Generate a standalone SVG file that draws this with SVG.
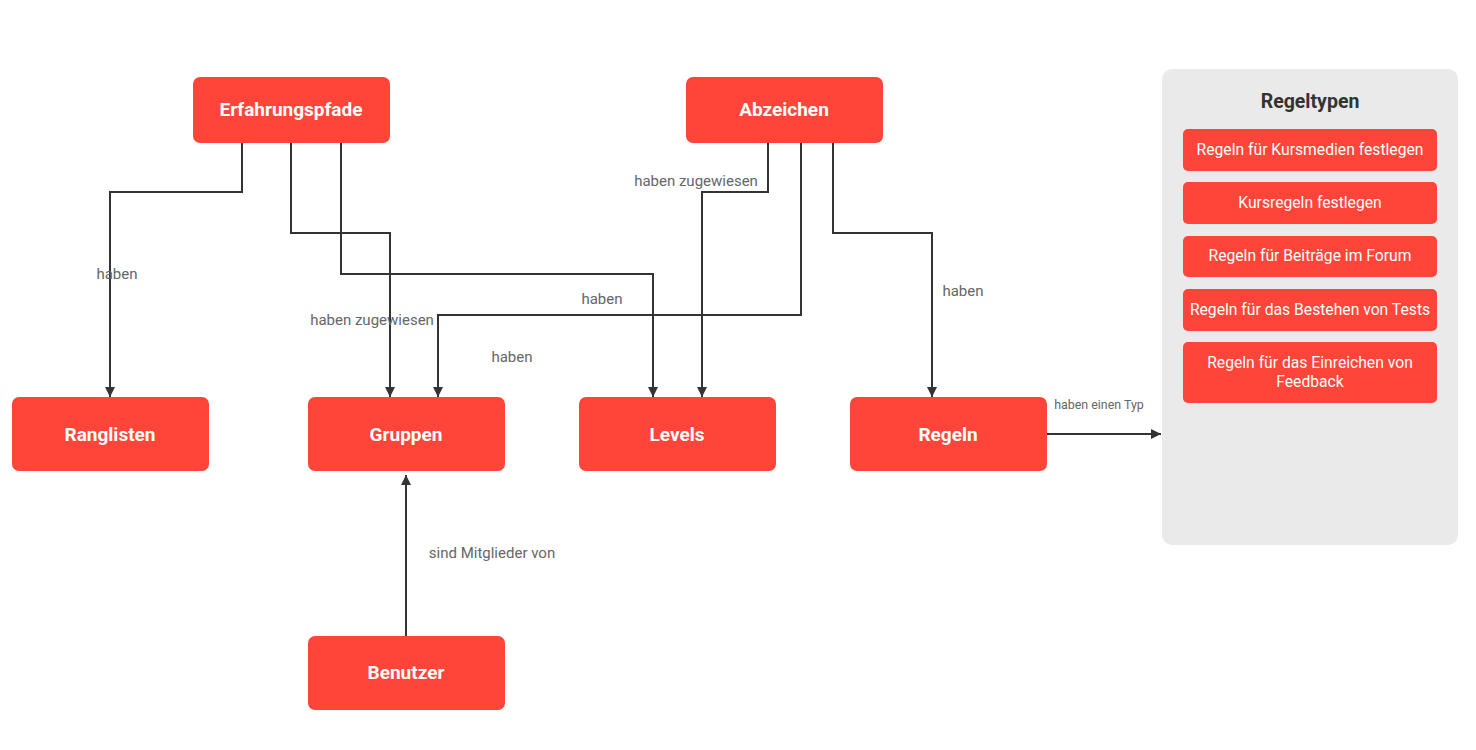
<svg xmlns="http://www.w3.org/2000/svg" width="1476" height="750" viewBox="0 0 1476 750">
<style>
.node{fill:#ff4539;}
.nt{font-family:Roboto,"Liberation Sans",sans-serif;font-weight:bold;font-size:19px;fill:#fff;text-anchor:middle;}
.st{font-family:Roboto,"Liberation Sans",sans-serif;font-size:15.7px;fill:#fff;text-anchor:middle;}
.lbl{font-family:Roboto,"Liberation Sans",sans-serif;font-size:15px;fill:#666;text-anchor:middle;}
.lbl.sm{font-size:12.4px;}
.edge{fill:none;stroke:#333;stroke-width:2;}
</style>
<defs>
<marker id="arr" viewBox="0 0 10 10" refX="10" refY="5" markerWidth="5" markerHeight="5" markerUnits="strokeWidth" orient="auto">
<path d="M0,0 L10,5 L0,10 z" fill="#333"/>
</marker>
</defs>
<rect width="1476" height="750" fill="#fff"/>

<g id="panel">
<rect x="1162" y="69" width="296" height="476" rx="10" fill="#eaeaea"/>
<text x="1310" y="108" font-family="Roboto,'Liberation Sans',sans-serif" font-weight="bold" font-size="19.5" fill="#333" text-anchor="middle">Regeltypen</text>
<rect class="node" x="1183" y="129" width="254" height="42" rx="5"/>
<text class="st" x="1310" y="155">Regeln für Kursmedien festlegen</text>
<rect class="node" x="1183" y="182" width="254" height="42" rx="5"/>
<text class="st" x="1310" y="208">Kursregeln festlegen</text>
<rect class="node" x="1183" y="236" width="254" height="41" rx="5"/>
<text class="st" x="1310" y="261">Regeln für Beiträge im Forum</text>
<rect class="node" x="1183" y="289" width="254" height="42" rx="5"/>
<text class="st" x="1310" y="315">Regeln für das Bestehen von Tests</text>
<rect class="node" x="1183" y="342" width="254" height="61" rx="5"/>
<text class="st" x="1310" y="368">Regeln für das Einreichen von</text>
<text class="st" x="1310" y="387">Feedback</text>
</g>

<g id="connectors">
<path class="edge" d="M242,143 V192 H110 V397" marker-end="url(#arr)"/>
<path class="edge" d="M291,143 V233 H390 V397" marker-end="url(#arr)"/>
<path class="edge" d="M341,143 V274 H653 V397" marker-end="url(#arr)"/>
<path class="edge" d="M768,143 V192 H702 V397" marker-end="url(#arr)"/>
<path class="edge" d="M801,143 V315 H438 V397" marker-end="url(#arr)"/>
<path class="edge" d="M833,143 V233 H932 V397" marker-end="url(#arr)"/>
<path class="edge" d="M406,636 V475" marker-end="url(#arr)"/>
<path class="edge" d="M1047,434 H1161" marker-end="url(#arr)"/>
<text class="lbl" x="117" y="279">haben</text>
<text class="lbl" x="372" y="325">haben zugewiesen</text>
<text class="lbl" x="602" y="304">haben</text>
<text class="lbl" x="696" y="186">haben zugewiesen</text>
<text class="lbl" x="512" y="362">haben</text>
<text class="lbl" x="963" y="296">haben</text>
<text class="lbl" x="492" y="558">sind Mitglieder von</text>
<text class="lbl sm" x="1099" y="409">haben einen Typ</text>
</g>

<g id="erfahrungspfade">
<rect class="node" x="193" y="77" width="197" height="66" rx="7"/>
<text class="nt" x="291" y="116">Erfahrungspfade</text>
</g>
<g id="abzeichen">
<rect class="node" x="686" y="77" width="197" height="66" rx="7"/>
<text class="nt" x="784" y="116">Abzeichen</text>
</g>
<g id="ranglisten">
<rect class="node" x="12" y="397" width="197" height="74" rx="7"/>
<text class="nt" x="110" y="441">Ranglisten</text>
</g>
<g id="gruppen">
<rect class="node" x="308" y="397" width="197" height="74" rx="7"/>
<text class="nt" x="406" y="441">Gruppen</text>
</g>
<g id="levels">
<rect class="node" x="579" y="397" width="197" height="74" rx="7"/>
<text class="nt" x="677" y="441">Levels</text>
</g>
<g id="regeln">
<rect class="node" x="850" y="397" width="197" height="74" rx="7"/>
<text class="nt" x="948" y="441">Regeln</text>
</g>
<g id="benutzer">
<rect class="node" x="308" y="636" width="197" height="74" rx="7"/>
<text class="nt" x="406" y="679">Benutzer</text>
</g>
</svg>
